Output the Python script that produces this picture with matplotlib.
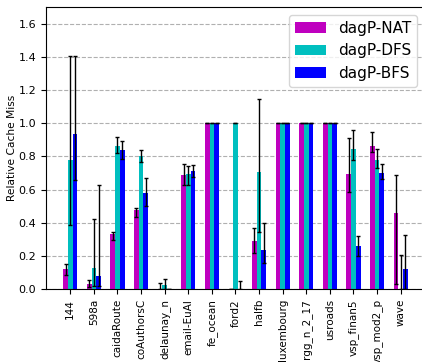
import numpy as np
import matplotlib
matplotlib.use("Agg")
import matplotlib.pyplot as plt

graphs = ["144", "598a", "caidaRoute", "coAuthorsC", "delaunay_n", "email-EuAl",
          "fe_ocean", "ford2", "halfb", "luxembourg", "rgg_n_2_17", "usroads",
          "vsp_finan5", "vsp_mod2_p", "wave"]
labels = ["dagP-NAT", "dagP-DFS", "dagP-BFS"]

nat = [0.12, 0.032, 0.333, 0.478, 0.003, 0.689, 1.0, 0.0, 0.291, 1.0, 1.0, 1.0, 0.695, 0.863, 0.46]
nat_lo = [0.086, 0.016, 0.295, 0.434, 0.0, 0.627, 1.0, 0.0, 0.217, 1.0, 1.0, 1.0, 0.588, 0.825, 0.032]
nat_hi = [0.154, 0.054, 0.343, 0.488, 0.04, 0.757, 1.0, 0.0, 0.371, 1.0, 1.0, 1.0, 0.914, 0.95, 0.691]

dfs = [0.78, 0.128, 0.863, 0.803, 0.026, 0.695, 1.0, 1.0, 0.707, 1.0, 1.0, 1.0, 0.845, 0.779, 0.0]
dfs_lo = [0.39, 0.022, 0.819, 0.767, 0.0, 0.63, 1.0, 1.0, 0.343, 1.0, 1.0, 1.0, 0.777, 0.733, 0.0]
dfs_hi = [1.407, 0.426, 0.918, 0.841, 0.06, 0.745, 1.0, 1.0, 1.143, 1.0, 1.0, 1.0, 0.962, 0.845, 0.207]

bfs = [0.936, 0.08, 0.839, 0.58, 0.003, 0.713, 1.0, 0.0, 0.237, 1.0, 1.0, 1.0, 0.261, 0.701, 0.122]
bfs_lo = [0.657, 0.02, 0.787, 0.5, 0.0, 0.675, 1.0, 0.0, 0.157, 1.0, 1.0, 1.0, 0.201, 0.665, 0.0]
bfs_hi = [1.407, 0.627, 0.892, 0.669, 0.003, 0.751, 1.0, 0.052, 0.398, 1.0, 1.0, 1.0, 0.323, 0.753, 0.325]

fig = plt.figure(figsize=(4.22, 3.62), dpi=100)
ax = fig.add_axes([0.109, 0.2008, 0.898, 0.780])

x = np.arange(len(graphs))
w = 0.2
series = [(nat, nat_lo, nat_hi, "m"), (dfs, dfs_lo, dfs_hi, "c"), (bfs, bfs_lo, bfs_hi, "b")]
for i, (vals, lo, hi, col) in enumerate(series):
    vals, lo, hi = np.array(vals), np.array(lo), np.array(hi)
    yerr = [vals - lo, hi - vals]
    ax.bar(x + (i - 1) * w, vals, w, color=col, label=labels[i],
           yerr=yerr, ecolor="k", capsize=1.5, error_kw={"elinewidth": 1})

ax.set_ylim(0, 1.7)
ax.set_xticks(x)
ax.set_xticklabels(graphs, rotation=90, fontsize=7.5)
ax.tick_params(axis="y", labelsize=8)
ax.set_ylabel("Relative Cache Miss", fontsize=7.7, labelpad=1)
ax.yaxis.grid(True, linestyle="--", color="#b0b0b0")
ax.set_axisbelow(True)
ax.legend(loc="upper right", fontsize=11)

fig.savefig("out.png", dpi=100)
